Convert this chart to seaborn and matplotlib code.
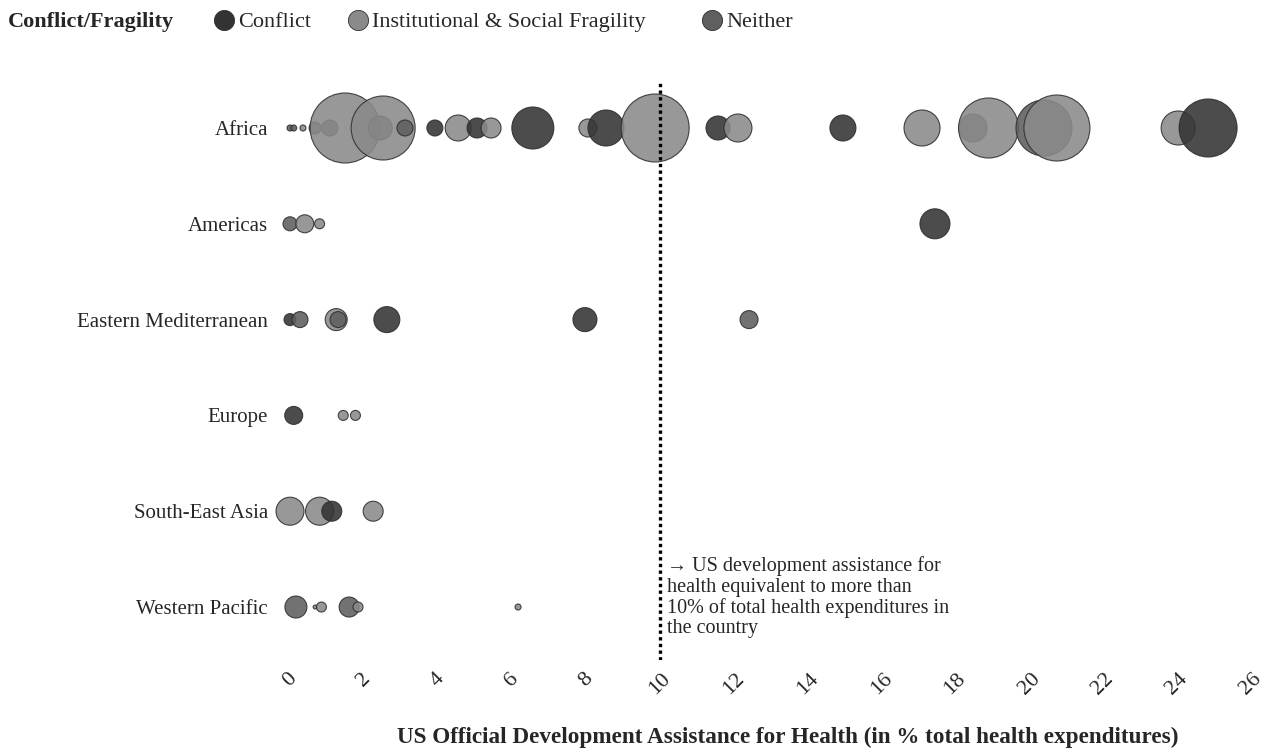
import numpy as np
import pandas as pd
import matplotlib
matplotlib.use("Agg")
import matplotlib.pyplot as plt
from matplotlib.lines import Line2D
import seaborn as sns

sns.set_theme(style="white")
plt.rcParams["font.family"] = ["Liberation Serif", "DejaVu Serif"]

# ---------------- data ----------------
regions = ["Africa", "Americas", "Eastern Mediterranean", "Europe",
           "South-East Asia", "Western Pacific"]
groups = ["Conflict", "Institutional & Social Fragility", "Neither"]

africa_val = [0.0, 0.1, 0.35, 0.68, 1.08, 1.49, 2.44, 2.52, 3.11, 3.92, 4.55, 5.06,
              5.44, 6.57, 8.06, 8.55, 9.88, 11.58, 12.12, 14.96, 17.1, 18.48, 18.9,
              20.4, 20.75, 24.03, 24.84]
africa_w = [9, 9, 9, 36, 64, 1225, 144, 1024, 64, 64, 169, 100,
            100, 441, 81, 324, 1156, 144, 196, 169, 324, 196, 900,
            784, 1089, 289, 841]
africa_g = ["Neither", "Neither", "Institutional & Social Fragility", "Neither", "Neither",
            "Institutional & Social Fragility", "Neither", "Institutional & Social Fragility",
            "Neither", "Conflict", "Institutional & Social Fragility", "Conflict",
            "Institutional & Social Fragility", "Conflict", "Institutional & Social Fragility",
            "Conflict", "Institutional & Social Fragility", "Conflict",
            "Institutional & Social Fragility", "Conflict", "Institutional & Social Fragility",
            "Neither", "Institutional & Social Fragility", "Neither",
            "Institutional & Social Fragility", "Institutional & Social Fragility", "Conflict"]

americas_val = [0.0, 0.4, 0.8, 17.45]
americas_w = [49, 81, 25, 225]
americas_g = ["Neither", "Institutional & Social Fragility", "Institutional & Social Fragility",
              "Conflict"]

emed_val = [0.0, 0.27, 1.25, 1.3, 2.62, 7.98, 12.42]
emed_w = [36, 64, 121, 64, 169, 144, 81]
emed_g = ["Conflict", "Neither", "Institutional & Social Fragility", "Neither", "Conflict",
          "Conflict", "Neither"]

europe_val = [0.1, 1.44, 1.77]
europe_w = [81, 25, 25]
europe_g = ["Conflict", "Institutional & Social Fragility", "Institutional & Social Fragility"]

sea_val = [0.0, 0.8, 1.13, 2.25]
sea_w = [196, 196, 100, 100]
sea_g = ["Institutional & Social Fragility", "Institutional & Social Fragility", "Conflict",
         "Institutional & Social Fragility"]

wpac_val = [0.16, 0.68, 0.85, 1.6, 1.84, 6.17]
wpac_w = [121, 4, 25, 100, 25, 9]
wpac_g = ["Neither", "Institutional & Social Fragility", "Institutional & Social Fragility",
          "Neither", "Institutional & Social Fragility", "Institutional & Social Fragility"]

x_ticks = list(range(0, 27, 2))
threshold = 10
note = ("\u2192 US development assistance for\nhealth equivalent to more than\n"
        "10% of total health expenditures in\nthe country")
x_label = "US Official Development Assistance for Health (in % total health expenditures)"
legend_title = "Conflict/Fragility"

# ---------------- build table ----------------
frames = []
for reg, v, w, g in zip(regions,
                        [africa_val, americas_val, emed_val, europe_val, sea_val, wpac_val],
                        [africa_w, americas_w, emed_w, europe_w, sea_w, wpac_w],
                        [africa_g, americas_g, emed_g, europe_g, sea_g, wpac_g]):
    frames.append(pd.DataFrame({"region": reg, "value": v, "weight": w, "group": g}))
df = pd.concat(frames, ignore_index=True)
df["region"] = pd.Categorical(df["region"], categories=regions, ordered=True)
df["ypos"] = df["region"].cat.codes

palette = {"Conflict": "#333333",
           "Institutional & Social Fragility": "#8a8a8a",
           "Neither": "#5f5f5f"}

# ---------------- figure ----------------
fig = plt.figure(figsize=(12.71, 7.56), dpi=100)
W, H = 1271, 756
ax_l, ax_r, ax_t, ax_b = 275, 1265, 80, 660
ax = fig.add_axes([ax_l / W, 1 - ax_b / H, (ax_r - ax_l) / W, (ax_b - ax_t) / H])

wmin, wmax = df["weight"].min(), df["weight"].max()
px2pt2 = (72 / 100 * 2) ** 2  # radius px -> marker area pt^2
sns.scatterplot(data=df, x="value", y="ypos", hue="group", size="weight",
                palette=palette, sizes=(px2pt2 * wmin, px2pt2 * wmax),
                size_norm=(wmin, wmax), alpha=0.88, edgecolor="#2e2e2e",
                linewidth=0.8, legend=False, ax=ax, zorder=3, clip_on=False)

ax.axvline(threshold, color="black", lw=2.4, linestyle=(0, (1, 1)), zorder=4)

ax.set_xlim(-0.406, 26.38)
ax.set_ylim(5.553, -0.501)
ax.set_yticks(range(len(regions)))
ax.set_yticklabels(regions, fontsize=15)
ax.set_xticks(x_ticks)
ax.set_xticklabels([str(t) for t in x_ticks], rotation=45, ha="center", va="top",
                   fontsize=16)
ax.tick_params(axis="y", length=0, pad=5)
ax.tick_params(axis="x", length=0, pad=7)
for s in ax.spines.values():
    s.set_visible(False)
ax.set_xlabel("")
ax.set_ylabel("")
ax.grid(False)

ax.text(threshold + 0.2, 4.47, note, fontsize=14.5, va="top", ha="left",
        linespacing=1.1, transform=ax.transData)

fig.text(788 / W, 1 - 737 / H, x_label, fontsize=16.7, fontweight="bold",
         ha="center", va="center")

# legend
fig.text(8 / W, 1 - 22 / H, legend_title, fontsize=16, fontweight="bold",
         ha="left", va="center")
marker_x = [224, 358, 712]
for g, mx in zip(groups, marker_x):
    h = Line2D([0], [0], marker="o", linestyle="", markersize=14.5,
               markerfacecolor=palette[g], markeredgecolor="#2e2e2e",
               markeredgewidth=0.6, label=g)
    fig.legend(handles=[h], loc="center left",
               bbox_to_anchor=((mx - 9) / W, 1 - 22 / H), frameon=False,
               fontsize=16, handletextpad=0.25, handlelength=0.8,
               borderaxespad=0, borderpad=0)

fig.savefig("out.png", dpi=100)
